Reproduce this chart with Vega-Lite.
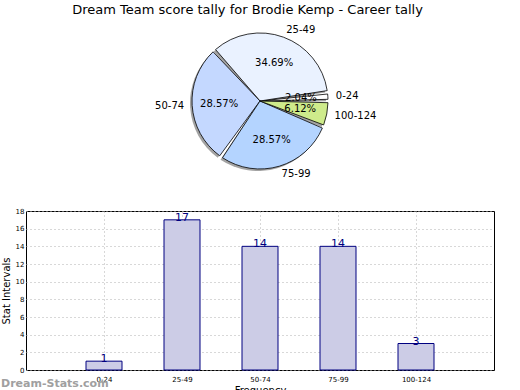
{
  "$schema": "https://vega.github.io/schema/vega-lite/v6.json",
  "padding": {"left": 0, "top": 3, "right": 5, "bottom": 0},
  "background": "white",
  "bounds": "flush",
  "config": {
    "font": "DejaVu Sans",
    "view": {"stroke": null},
    "concat": {"spacing": 35}
  },
  "title": {"text": "Dream Team score tally for Brodie Kemp - Career tally", "fontSize": 13, "fontWeight": "normal", "font": "DejaVu Sans", "color": "black", "anchor": "middle", "offset": 8},
  "datasets": {
    "tally": [
      {"range": "0-24", "count": 1, "pct": "2.04%", "k": 1},
      {"range": "25-49", "count": 17, "pct": "34.69%", "k": 2},
      {"range": "50-74", "count": 14, "pct": "28.57%", "k": 3},
      {"range": "75-99", "count": 14, "pct": "28.57%", "k": 4},
      {"range": "100-124", "count": 3, "pct": "6.12%", "k": 5}
    ]
  },
  "vconcat": [
    {
      "width": 468,
      "height": 150,
      "data": {"name": "tally"},
      "view": {"stroke": null},
      "encoding": {
        "theta": {"field": "count", "type": "quantitative", "stack": true, "scale": {"range": [1.5708, -4.7124]}},
        "order": {"field": "k", "type": "quantitative"}
      },
      "layer": [
        {
          "mark": {"type": "arc", "outerRadius": 68, "padAngle": 0.05, "fill": "#666", "opacity": 0.6, "xOffset": -2, "yOffset": 2}
        },
        {
          "mark": {"type": "arc", "outerRadius": 68, "padAngle": 0.05, "stroke": "black", "strokeWidth": 0.8},
          "encoding": {
            "color": {"field": "range", "type": "nominal", "legend": null,
              "scale": {"domain": ["0-24", "25-49", "50-74", "75-99", "100-124"], "range": ["#FFFFFF", "#EAF2FF", "#C4D8FF", "#B4D4FF", "#CEEB8B"]}}
          }
        },
        {
          "mark": {"type": "text", "radius": 41, "fontSize": 10, "color": "black"},
          "encoding": {"text": {"field": "pct"}}
        },
        {
          "mark": {"type": "text", "radius": 76, "fontSize": 10, "color": "black", "baseline": "middle",
            "align": {"expr": "sin((scale('concat_0_theta', datum.count_start) + scale('concat_0_theta', datum.count_end)) / 2) >= 0 ? 'left' : 'right'"}},
          "encoding": {"text": {"field": "range"}}
        }
      ]
    },
    {
      "width": 468,
      "height": 159,
      "data": {"name": "tally"},
      "view": {"stroke": "black", "strokeWidth": 1},
      "title": {"text": "Dream-Stats.com", "orient": "bottom", "anchor": "start", "frame": "group", "dx": -25, "offset": -17, "fontSize": 11, "fontWeight": "bold", "color": "#A0A0A0", "font": "DejaVu Sans"},
      "encoding": {
        "x": {"field": "range", "type": "nominal", "sort": null,
          "scale": {"type": "point", "padding": 1},
          "axis": {"title": "Frequency", "titleFontSize": 10, "titleFontWeight": "normal", "titlePadding": 3, "labelAngle": 0, "labelFontSize": 7, "labelColor": "black", "labelPadding": 5, "ticks": false, "domain": false,
            "grid": true, "gridDash": [1, 3], "gridColor": "#b0b0b0", "gridWidth": 1}},
        "y": {"field": "count", "type": "quantitative",
          "scale": {"domain": [0, 18], "nice": false},
          "axis": {"title": "Stat Intervals", "titleFontSize": 10, "titleFontWeight": "normal", "titlePadding": 4, "values": [0, 2, 4, 6, 8, 10, 12, 14, 16, 18], "labelFontSize": 7, "labelColor": "black", "labelPadding": 2, "ticks": false, "domain": false,
            "grid": true, "gridDash": [1, 3], "gridColor": "#b0b0b0", "gridWidth": 1}}
      },
      "layer": [
        {
          "mark": {"type": "bar", "width": 36, "fill": "#CCCCE6", "stroke": "#000080", "strokeWidth": 1}
        },
        {
          "mark": {"type": "text", "baseline": "bottom", "dy": 3, "fontSize": 11, "color": "#000080"},
          "encoding": {"text": {"field": "count", "type": "quantitative"}}
        }
      ]
    }
  ]
}
